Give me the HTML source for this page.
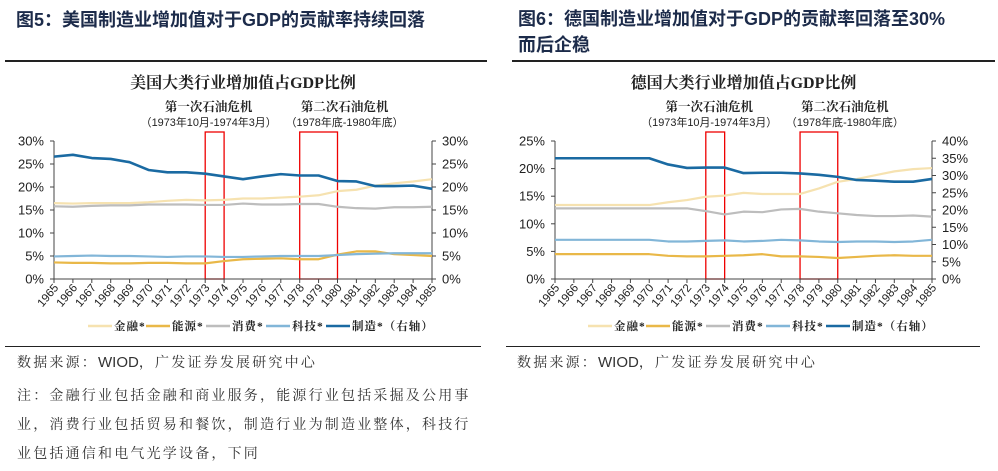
<!DOCTYPE html>
<html><head><meta charset="utf-8">
<style>
body{margin:0;background:#fff;width:998px;height:471px;overflow:hidden;font-family:"Liberation Sans","Noto Sans CJK SC",sans-serif;}
.t{position:absolute;font-weight:bold;font-size:18px;color:#1c2b4a;font-family:"Liberation Sans","Noto Sans CJK SC",sans-serif;}
.rule{position:absolute;height:2px;background:#222;top:60px}
.thin{position:absolute;height:1px;background:#222;top:346px}
.foot{position:absolute;font-size:14px;letter-spacing:2.2px;color:#333;font-family:"Liberation Sans","Noto Serif CJK SC",serif;white-space:nowrap}
.foot b{font-weight:normal;letter-spacing:0;font-family:"Liberation Sans",sans-serif;font-size:15px}
svg{position:absolute;left:0;top:0}
</style></head><body>
<div class="t" style="left:16px;top:6px">图5：美国制造业增加值对于GDP的贡献率持续回落</div>
<div class="t" style="left:518px;top:6px;line-height:26px">图6：德国制造业增加值对于GDP的贡献率回落至30%<br>而后企稳</div>
<div class="rule" style="left:5px;width:482px"></div>
<div class="rule" style="left:512px;width:483px"></div>
<div class="thin" style="left:5px;width:476px"></div>
<div class="thin" style="left:506px;width:474px"></div>
<div class="foot" style="left:17px;top:352px">数据来源：<b>WIOD</b>，广发证券发展研究中心</div>
<div class="foot" style="left:17px;top:381px;line-height:29px">注：金融行业包括金融和商业服务，能源行业包括采掘及公用事<br>业，消费行业包括贸易和餐饮，制造行业为制造业整体，科技行<br>业包括通信和电气光学设备，下同</div>
<div class="foot" style="left:517px;top:352px">数据来源：<b>WIOD</b>，广发证券发展研究中心</div>
<svg id="svg" width="998" height="471"></svg>
<script>
const years=[1965,1966,1967,1968,1969,1970,1971,1972,1973,1974,1975,1976,1977,1978,1979,1980,1981,1982,1983,1984,1985];
const usFinance=[16.5,16.4,16.5,16.5,16.5,16.7,17.0,17.2,17.1,17.2,17.5,17.5,17.7,17.9,18.2,19.1,19.4,20.3,20.8,21.2,21.7];
const usEnergy=[3.6,3.5,3.5,3.4,3.4,3.5,3.5,3.4,3.4,3.9,4.3,4.4,4.5,4.3,4.3,5.3,6.0,6.0,5.4,5.2,5.0];
const usConsumer=[15.8,15.7,15.9,16.0,16.0,16.2,16.2,16.2,16.1,16.1,16.4,16.2,16.2,16.3,16.3,15.7,15.4,15.3,15.6,15.6,15.7];
const usTech=[4.9,5.0,5.1,5.0,5.0,4.9,4.8,4.9,4.9,4.8,4.8,4.9,5.0,5.0,5.0,5.2,5.4,5.5,5.6,5.6,5.6];
const usManuf=[26.6,27.0,26.3,26.1,25.4,23.7,23.2,23.2,22.9,22.3,21.7,22.3,22.8,22.5,22.5,21.3,21.2,20.2,20.2,20.3,19.6];
const deFinance=[13.4,13.4,13.4,13.4,13.4,13.4,13.9,14.3,14.9,15.1,15.6,15.4,15.4,15.4,16.4,17.6,18.1,18.8,19.5,19.9,20.1];
const deEnergy=[4.5,4.5,4.5,4.5,4.5,4.5,4.2,4.1,4.1,4.2,4.3,4.5,4.1,4.1,4.0,3.8,4.0,4.2,4.3,4.2,4.2];
const deConsumer=[12.8,12.8,12.8,12.8,12.8,12.8,12.8,12.8,12.3,11.7,12.2,12.1,12.6,12.7,12.2,11.9,11.6,11.4,11.4,11.5,11.3];
const deTech=[7.1,7.1,7.1,7.1,7.1,7.1,6.8,6.8,6.9,7.0,6.8,6.9,7.1,7.0,6.8,6.7,6.8,6.8,6.7,6.8,7.1];
const deManuf=[35,35,35,35,35,35,33.2,32.2,32.3,32.3,30.7,30.8,30.8,30.6,30.2,29.6,28.7,28.5,28.2,28.2,29.0];
const usLeftTicks=[0,5,10,15,20,25,30];
const usRightTicks=[0,5,10,15,20,25,30];
const deLeftTicks=[0,5,10,15,20,25];
const deRightTicks=[0,5,10,15,20,25,30,35,40];
const legendLabels=["金融*","能源*","消费*","科技*","制造*（右轴）"];
const colors=["#f6e2b0","#e9b848","#bdbdbd","#82b6d8","#1a6aa2"];
const NS="http://www.w3.org/2000/svg";
const svg=document.getElementById('svg');
function mk(tag,attrs,parent){const e=document.createElementNS(NS,tag);for(const k in attrs)e.setAttribute(k,attrs[k]);(parent||svg).appendChild(e);return e;}
const SERIF='"Liberation Serif","Noto Serif CJK SC",serif';
function chart(o){
  const g=mk('g',{});
  
  
  const x0=o.x0,x1=o.x1,y0=141,y1=279;
  const X=i=>x0+(x1-x0)*i/(years.length-1);
  const YL=v=>y1-(y1-y0)*v/o.lmax;
  const YR=v=>y1-(y1-y0)*v/o.rmax;
  let t=mk('text',{x:(x0+x1)/2,y:88,'text-anchor':'middle','font-size':16,'font-weight':'bold',fill:'#222','font-family':SERIF},g);t.textContent=o.title;
  
  const ann=[[8,9,'第一次石油危机','（1973年10月-1974年3月）',-6,136],[13,15,'第二次石油危机','（1978年底-1980年底）',26,118]];
  ann.forEach((a,k)=>{
    const xa=X(a[0]),xb=X(a[1]);
    const r=mk('rect',{x:xa,y:132,width:xb-xa,height:279-132,fill:'none',stroke:'#e00','stroke-width':1.3},g);
    
    const c=(xa+xb)/2+a[4];
    let a1=mk('text',{x:c,y:111,'text-anchor':'middle','font-size':12.5,'font-weight':'bold',fill:'#222','font-family':SERIF},g);a1.textContent=a[2];
    
    let a2=mk('text',{x:c,y:126,'text-anchor':'middle','font-size':11,fill:'#222',textLength:a[5],lengthAdjust:'spacingAndGlyphs'},g);a2.textContent=a[3];
    
  });
  mk('line',{x1:x0,y1:y0,x2:x0,y2:y1,stroke:'#444'},g);
  mk('line',{x1:x1,y1:y0,x2:x1,y2:y1,stroke:'#444'},g);
  mk('line',{x1:x0,y1:y1,x2:x1,y2:y1,stroke:'#444'},g);
  o.lt.forEach(v=>{const y=YL(v);mk('line',{x1:x0-4,y1:y,x2:x0,y2:y,stroke:'#444'},g);
    const tx=mk('text',{x:x0-10,y:y+4.5,'text-anchor':'end','font-size':13,fill:'#222'},g);tx.textContent=v+'%';
    });
  o.rt.forEach(v=>{const y=YR(v);mk('line',{x1:x1,y1:y,x2:x1+4,y2:y,stroke:'#444'},g);
    const tx=mk('text',{x:x1+10,y:y+4.5,'font-size':13,fill:'#222'},g);tx.textContent=v+'%';
    });
  years.forEach((yr,i)=>{const x=X(i);mk('line',{x1:x,y1:y1,x2:x,y2:y1+4,stroke:'#444'},g);
    const tx=mk('text',{x:x+5,y:y1+9,'text-anchor':'end','font-size':11.5,fill:'#222',transform:`rotate(-50 ${x+5} ${y1+9})`},g);tx.textContent=yr;
    });
  const series=[[o.s[0],YL],[o.s[1],YL],[o.s[2],YL],[o.s[3],YL],[o.s[4],YR]];
  const names=['finance-line','energy-line','consumer-line','tech-line','manufacturing-line'];
  series.forEach((s,k)=>{
    const p=mk('polyline',{points:s[0].map((v,i)=>X(i)+','+s[1](v)).join(' '),fill:'none',stroke:colors[k],'stroke-width':k==4?2.6:2.2,'stroke-linejoin':'round'},g);
    
  });
  let lx=o.lx;
  legendLabels.forEach((lab,k)=>{
    mk('line',{x1:lx,y1:326,x2:lx+24,y2:326,stroke:colors[k],'stroke-width':2.5},g);
    const tx=mk('text',{x:lx+26,y:330,'font-size':11.5,'font-weight':'bold','letter-spacing':1,fill:'#222','font-family':SERIF},g);tx.textContent=lab;
    
    lx+=k==0?58:60;
  });
}
chart({name:'us-chart',x0:54,x1:432,lmax:30,rmax:30,lt:usLeftTicks,rt:usRightTicks,title:'美国大类行业增加值占GDP比例',s:[usFinance,usEnergy,usConsumer,usTech,usManuf],lx:88});
chart({name:'germany-chart',x0:555,x1:932,lmax:25,rmax:40,lt:deLeftTicks,rt:deRightTicks,title:'德国大类行业增加值占GDP比例',s:[deFinance,deEnergy,deConsumer,deTech,deManuf],lx:588});
</script>
</body></html>
